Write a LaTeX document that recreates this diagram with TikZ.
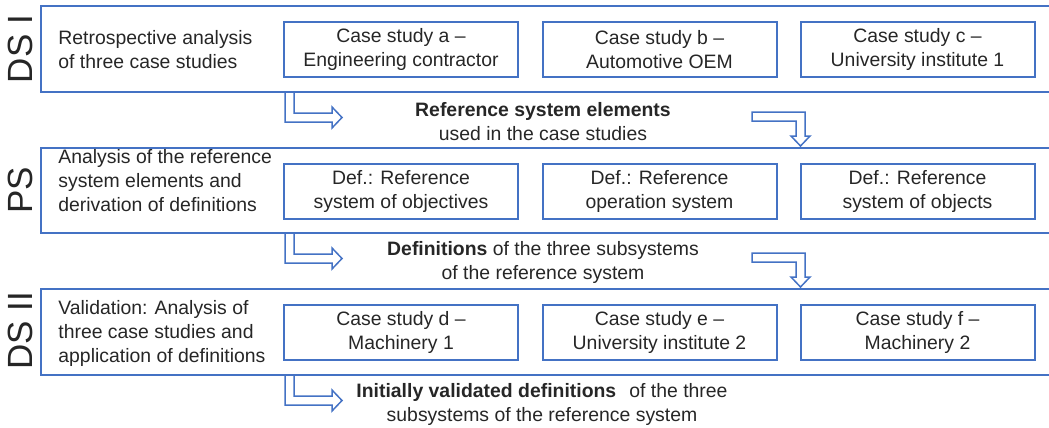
\documentclass[tikz,border=0pt]{standalone}
\usepackage{fontspec}
\setmainfont{Liberation Sans}
\usepackage{xcolor}
\usepackage{tikz}
\usetikzlibrary{positioning}

\definecolor{boxblue}{RGB}{68,114,196}
\definecolor{textgray}{RGB}{38,38,38}

\begin{document}
\begin{tikzpicture}[x=0.5pt, y=-0.5pt, font=\fontsize{9.7}{12}\selectfont, text=textgray,
    band/.style={draw=boxblue, line width=0.8pt},
    casebox/.style={draw=boxblue, line width=1pt, minimum width=117pt, minimum height=27.5pt, align=center, inner sep=0pt},
    turnarrow/.style={draw=boxblue, line width=0.75pt, line join=miter},
    sidelabel/.style={rotate=90, font=\fontsize{17.5}{20}\selectfont},
    steptext/.style={align=left, anchor=west, inner sep=0pt},
    result/.style={align=center, inner sep=0pt}]
    \useasboundingbox (0,0) rectangle (1049,428);
    \clip (0,0) rectangle (1049,428);

    % DS I
    \draw[band] (41,6) rectangle (1060,92);
    \node[sidelabel] (dsI) at (20,49) {DS I};
    \node[steptext] (stepI) at (58,50) {Retrospective analysis\\of three case studies};
    \node[casebox] (casea) at (401,49.5) {Case study a --\\Engineering contractor};
    \node[casebox] (caseb) at (659.5,49.5) {Case study b --\\Automotive OEM};
    \node[casebox] (casec) at (917.5,49.5) {Case study c --\\University institute 1};

    % DS I -> PS
    \draw[turnarrow] (285,92) -- (285,122) -- (332,122) -- (332,128) -- (342,117.5) -- (332,107) -- (332,113) -- (294,113) -- (294,92);
    \node[result] (elements) at (543,122) {\textbf{Reference system elements}\\used in the case studies};
    \draw[turnarrow] (752,112) -- (805,112) -- (805,136) -- (810,136) -- (800.5,146) -- (791,136) -- (796,136) -- (796,121) -- (752,121) -- cycle;

    % PS
    \draw[band] (41,148) rectangle (1060,233);
    \node[sidelabel] (ps) at (20,190) {PS};
    \node[steptext] (stepPS) at (58,181) {Analysis of the reference\\system elements and\\derivation of definitions};
    \node[casebox] (defobj) at (401,191) {Def.: Reference\\system of objectives};
    \node[casebox] (defop) at (659.5,191) {Def.: Reference\\operation system};
    \node[casebox] (defobs) at (917.5,191) {Def.: Reference\\system of objects};

    % PS -> DS II
    \draw[turnarrow] (285,233) -- (285,263) -- (332,263) -- (332,269) -- (342,258.5) -- (332,248) -- (332,254) -- (294,254) -- (294,233);
    \node[result] (definitions) at (543,262) {\textbf{Definitions} of the three subsystems\\of the reference system};
    \draw[turnarrow] (752,253) -- (805,253) -- (805,277) -- (810,277) -- (800.5,287) -- (791,277) -- (796,277) -- (796,262) -- (752,262) -- cycle;

    % DS II
    \draw[band] (41,289) rectangle (1060,375);
    \node[sidelabel] (dsII) at (20,331) {DS II};
    \node[steptext] (stepII) at (58,333) {Validation: Analysis of\\three case studies and\\application of definitions};
    \node[casebox] (cased) at (401,332) {Case study d --\\Machinery 1};
    \node[casebox] (casee) at (659.5,332) {Case study e --\\University institute 2};
    \node[casebox] (casef) at (917.5,332) {Case study f --\\Machinery 2};

    % result
    \draw[turnarrow] (285,375) -- (285,405) -- (332,405) -- (332,411) -- (342,400.5) -- (332,390) -- (332,396) -- (294,396) -- (294,375);
    \node[result] (validated) at (542,404) {\textbf{Initially validated definitions}\hspace{0.4em} of the three\\subsystems of the reference system};
\end{tikzpicture}
\end{document}
